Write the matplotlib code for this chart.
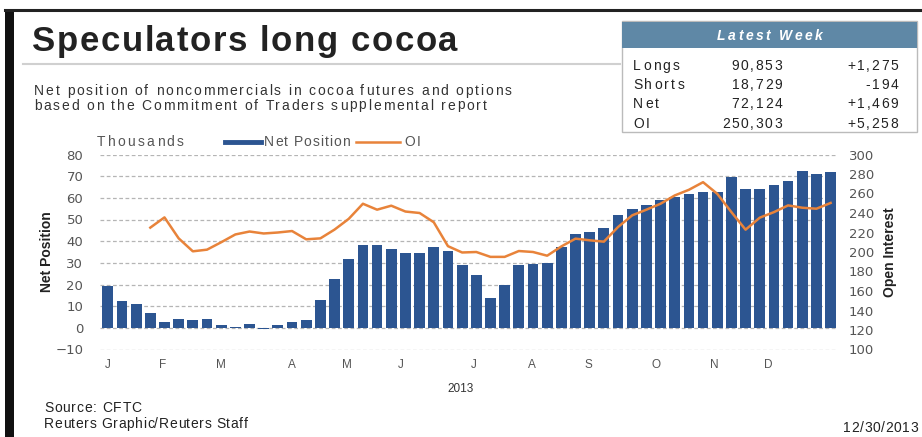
import numpy as np
import matplotlib
matplotlib.use('Agg')
import matplotlib.pyplot as plt
from matplotlib.patches import Rectangle
from matplotlib.lines import Line2D

# weekly CFTC data, 2013 (thousands of contracts)
net_position = [19.1, 12.6, 10.8, 6.8, 2.5, 4.0, 3.4, 4.0, 1.5, 0.6,
                2.0, -0.4, 1.2, 2.6, 3.5, 13.0, 22.7, 31.8, 38.2, 38.2,
                36.3, 34.7, 34.7, 37.5, 35.6, 28.9, 24.6, 13.9, 19.7, 28.9,
                29.4, 30.0, 37.5, 43.5, 44.2, 46.2, 52.3, 54.8, 56.6, 59.1,
                60.3, 61.8, 62.9, 62.5, 69.8, 64.0, 64.3, 66.0, 67.7, 72.6,
                70.8, 72.124]
open_interest = [np.nan, np.nan, np.nan, 225.0, 235.5, 214.0, 200.7, 202.4, 210.0, 218.0,
                 221.0, 219.0, 220.0, 221.5, 213.0, 214.0, 223.0, 234.0, 249.5, 243.4,
                 247.5, 241.5, 240.0, 230.5, 206.0, 199.5, 200.0, 195.0, 195.0, 201.0,
                 200.0, 196.2, 205.7, 213.7, 212.0, 210.6, 225.6, 237.6, 243.4, 249.5,
                 258.0, 263.8, 271.6, 259.7, 240.9, 222.9, 235.2, 240.9, 247.8, 245.4,
                 244.4, 250.303]
months = ['J', 'F', 'M', 'A', 'M', 'J', 'J', 'A', 'S', 'O', 'N', 'D']
month_pos = [0, 3.9, 7.95, 12.96, 16.9, 20.7, 25.8, 29.9, 33.9, 38.7, 42.8, 46.6]

table_labels = ['Longs', 'Shorts', 'Net', 'OI']
table_values = ['90,853', '18,729', '72,124', '250,303']
table_changes = ['+1,275', '-194', '+1,469', '+5,258']

bar_color = '#2c5591'
line_color = '#e8833a'
text_gray = '#555555'
font = ['Liberation Sans', 'DejaVu Sans']
narrow = ['Liberation Sans Narrow', 'DejaVu Sans Condensed', 'Liberation Sans']
tick_font = ['DejaVu Sans']

W, H = 922, 437
fig = plt.figure(figsize=(W / 100, H / 100), dpi=100)
fig.patch.set_facecolor('white')
renderer = fig.canvas.get_renderer()


def px(x, y):
    return x / W, 1 - y / H


def ptext(x, y, s, **kw):
    fig.text(*px(x, y), s, **kw)


def tracked(x, y, s, size, gap, ha='left', **kw):
    # letter-spaced text: one glyph at a time, y is the baseline (pixels)
    probe = fig.text(0, 0, '|', fontsize=size, **kw)
    base = probe.get_window_extent(renderer).width

    def adv(t):
        probe.set_text(t + '|')
        return probe.get_window_extent(renderer).width - base

    total = adv(s) + gap * (len(s) - 1)
    if ha == 'right':
        x -= total
    elif ha == 'center':
        x -= total / 2
    for i, ch in enumerate(s):
        if ch != ' ':
            ptext(x + adv(s[:i]) + i * gap, y, ch, fontsize=size, va='baseline', **kw)
    probe.remove()


# frame: dark top rule and thick left bar
fig.add_artist(Line2D([5 / W, 1], [1 - 9.5 / H] * 2, color='#222222', lw=2.2))
fig.add_artist(Rectangle(px(5, 437), 9 / W, 428 / H, color='#111111', lw=0))

# title block
tracked(32, 51, 'Speculators long cocoa', 25, 1.6, fontweight='bold',
        family=font, color='#222222')
fig.add_artist(Line2D([23 / W, 620 / W], [1 - 64 / H] * 2, color='#d0d0d0', lw=1.5))
tracked(34, 95, 'Net position of noncommercials in cocoa futures and options',
        10, 1.8, family=font, color='#333333')
tracked(34, 109.5, 'based on the Commitment of Traders supplemental report',
        10, 1.8, family=font, color='#333333')

# latest week table
fig.add_artist(Rectangle(px(622, 132), 295 / W, 111 / H, facecolor='white',
                         edgecolor='#bbbbbb', lw=1))
fig.add_artist(Rectangle(px(622, 48), 295 / W, 26 / H, facecolor='#5f88a6', lw=0))
tracked(770, 40.5, 'Latest Week', 10, 2.5, ha='center', fontweight='bold',
        style='italic', family=font, color='white')
for i, y in enumerate([70, 89, 107.5, 128]):
    tracked(633, y, table_labels[i], 10, 2.2, family=font, color='#222222')
    tracked(782, y, table_values[i], 10, 1.6, ha='right', family=font, color='#222222')
    tracked(898, y, table_changes[i], 10, 1.6, ha='right', family=font, color='#222222')

# chart
weeks = np.arange(len(net_position))
ax = fig.add_axes([100 / W, 1 - 349.5 / H, 737 / W, 195 / H])
ax.bar(weeks, net_position, width=0.76, color=bar_color, zorder=2)
ax.set_xlim(-0.55, 51.45)
ax.set_ylim(-10, 80)
ax.set_yticks(np.arange(-10, 81, 10))
ax.yaxis.grid(True, color='#b5b5b5', lw=0.9, ls=(0, (3, 2)), zorder=0)
ax.set_xticks(month_pos)
ax.set_xticklabels(months)
ax.tick_params(length=0)
ax.tick_params(axis='y', pad=12, labelsize=9.5, labelcolor=text_gray)
ax.tick_params(axis='x', pad=7, labelsize=8.5, labelcolor=text_gray)
for lab in ax.get_yticklabels():
    lab.set_family(tick_font)
for lab in ax.get_xticklabels():
    lab.set_family(font)
for s in ax.spines.values():
    s.set_visible(False)
ax.set_ylabel('Net Position', fontsize=10, fontweight='bold', family=narrow,
              color='#222222', labelpad=1)

ax2 = ax.twinx()
ax2.plot(weeks, open_interest, color=line_color, lw=1.8, zorder=3)
ax2.set_ylim(100, 300)
ax2.set_yticks(np.arange(100, 301, 20))
ax2.tick_params(length=0, pad=8.5, labelsize=9.5, labelcolor=text_gray)
for lab in ax2.get_yticklabels():
    lab.set_family(tick_font)
for s in ax2.spines.values():
    s.set_visible(False)
ax2.set_ylabel('Open Interest', fontsize=10, fontweight='bold', family=narrow,
               color='#222222', labelpad=6)

# legend row above the plot
tracked(97, 146, 'Thousands', 10, 2.2, family=font, color=text_gray)
fig.add_artist(Line2D([225 / W, 261 / W], [1 - 142 / H] * 2, color=bar_color, lw=3.5))
tracked(264, 146, 'Net Position', 10, 1.0, family=font, color=text_gray)
fig.add_artist(Line2D([356 / W, 400 / W], [1 - 142 / H] * 2, color=line_color, lw=1.8))
tracked(404, 146, 'OI', 10, 2.0, family=font, color=text_gray)

# footer
ptext(461, 389, '2013', fontsize=8.5, family=narrow, color='#333333', ha='center', va='center')
tracked(44, 412, 'Source: CFTC', 10, 0.8, family=narrow, color='#222222')
tracked(44, 428, 'Reuters Graphic/Reuters Staff', 10, 0.6, family=narrow, color='#222222')
tracked(918, 432, '12/30/2013', 10, 0.6, ha='right', family=narrow, color='#222222')

fig.savefig('out.png', dpi=100, facecolor='white')
